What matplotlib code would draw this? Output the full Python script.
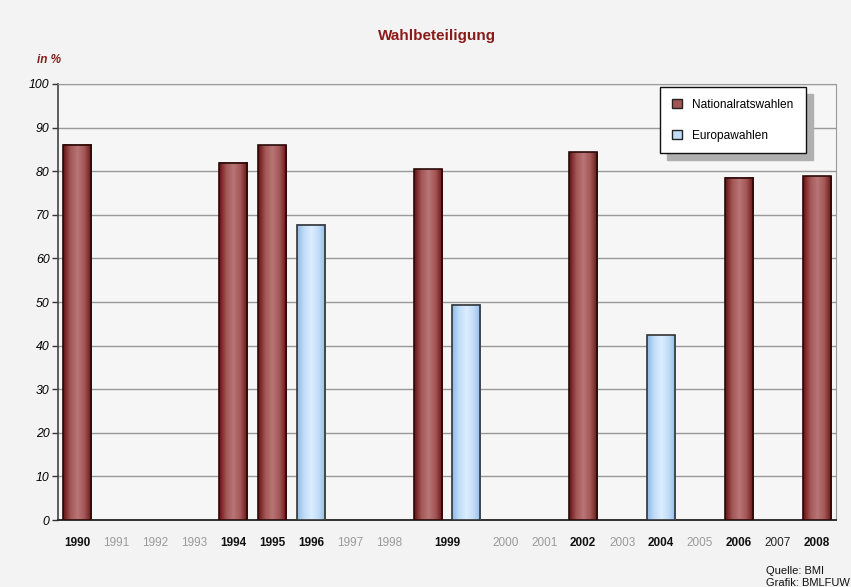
import numpy as np
import matplotlib.pyplot as plt
from matplotlib.patches import Rectangle, Patch
from matplotlib.colors import LinearSegmentedColormap

plt.rcParams['font.family'] = ['Liberation Sans', 'DejaVu Sans']

# --- Daten ---
slot_labels = ['1990', '1991', '1992', '1993', '1994', '1995', '1996', '1997', '1998',
               '1999', '1999', '2000', '2001', '2002', '2003', '2004', '2005', '2006',
               '2007', '2008']
nr_slots = [0, 4, 5, 9, 13, 17, 19]
nr_values = [86.1, 81.9, 86.0, 80.4, 84.3, 78.5, 78.8]
eu_slots = [6, 10, 15]
eu_values = [67.7, 49.4, 42.4]

year_ticks = ['1990', '1991', '1992', '1993', '1994', '1995', '1996', '1997', '1998',
              '1999', '2000', '2001', '2002', '2003', '2004', '2005', '2006', '2007', '2008']
year_pos = [0, 1, 2, 3, 4, 5, 6, 7, 8, 9.5, 11, 12, 13, 14, 15, 16, 17, 18, 19]
bold_years = ['1990', '1994', '1995', '1996', '1999', '2002', '2004', '2006', '2008']

BAR_W = 0.72
DARKRED = '#8b1a1a'

cm_nr = LinearSegmentedColormap.from_list('nr', ['#651212', '#a45656', '#b87676', '#a45656', '#651212'])
cm_eu = LinearSegmentedColormap.from_list('eu', ['#8fbbe8', '#c2ddf8', '#dcedff', '#c2ddf8', '#8fbbe8'])

fig = plt.figure(figsize=(8.51, 5.87), dpi=100, facecolor='#f3f3f3')
ax = fig.add_axes([0.0682, 0.1141, 0.9142, 0.7428])
ax.set_facecolor('#f6f6f6')

grad = np.linspace(0, 1, 64).reshape(1, -1)


def gradient_bar(x, h, cmap, edge):
    x0 = x - BAR_W / 2
    ax.imshow(grad, cmap=cmap, extent=(x0, x0 + BAR_W, 0, h), aspect='auto', zorder=3,
              interpolation='bilinear')
    ax.add_patch(Rectangle((x0, 0), BAR_W, h, facecolor='none', edgecolor=edge,
                           linewidth=1.2, zorder=4))


for s, v in zip(nr_slots, nr_values):
    gradient_bar(s, v, cm_nr, '#2a0a0a')
for s, v in zip(eu_slots, eu_values):
    gradient_bar(s, v, cm_eu, '#333333')

ax.set_xlim(-0.5, 19.5)
ax.set_ylim(0, 100)
ax.set_yticks(range(0, 101, 10))
ax.yaxis.grid(True, color='#999999', linewidth=1.0, zorder=1)
ax.set_axisbelow(True)
for lbl in ax.get_yticklabels():
    lbl.set_fontstyle('italic')
ax.tick_params(axis='y', length=4, width=1, color='#333333', labelsize=8.8, pad=2)

ax.set_xticks(year_pos)
ax.set_xticklabels(year_ticks)
ax.tick_params(axis='x', length=0, pad=12, labelsize=8.5)
for lbl in ax.get_xticklabels():
    t = lbl.get_text()
    if t in bold_years:
        lbl.set_fontweight('bold')
        lbl.set_color('#111111')
    elif t == '2007':
        lbl.set_color('#222222')
    else:
        lbl.set_color('#9a9a9a')

ax.spines['left'].set_color('#444444')
ax.spines['left'].set_linewidth(1.2)
ax.spines['bottom'].set_color('#222222')
ax.spines['bottom'].set_linewidth(1.3)
ax.spines['top'].set_color('#999999')
ax.spines['right'].set_color('#999999')

fig.text(0.514, 0.938, 'Wahlbeteiligung', ha='center', va='center', fontsize=11,
         fontweight='bold', color=DARKRED)
fig.text(0.043, 0.897, 'in %', ha='left', va='center', fontsize=8.5,
         fontweight='bold', fontstyle='italic', color=DARKRED)
fig.text(0.9, 0.028, 'Quelle: BMI', ha='left', va='center', fontsize=8, color='#111111')
fig.text(0.9, 0.007, 'Grafik: BMLFUW', ha='left', va='center', fontsize=8, color='#111111')

handles = [Patch(facecolor='#a45656', edgecolor='#222222', label='Nationalratswahlen'),
           Patch(facecolor='#c2ddf8', edgecolor='#222222', label='Europawahlen')]
leg = ax.legend(handles=handles, loc='upper left', bbox_to_anchor=(0.774, 0.993),
                frameon=True, fancybox=False, fontsize=8.6, handlelength=0.8,
                handleheight=0.8, labelspacing=1.55, borderpad=1.0, handletextpad=0.9,
                borderaxespad=0, shadow={'ox': 5, 'oy': -5, 'color': '#b0b0b0', 'alpha': 1})
leg.get_frame().set_edgecolor('#111111')
leg.get_frame().set_linewidth(1.0)
leg.get_frame().set_facecolor('white')
leg.set_zorder(10)

fig.savefig('out.png', dpi=100, facecolor=fig.get_facecolor())
